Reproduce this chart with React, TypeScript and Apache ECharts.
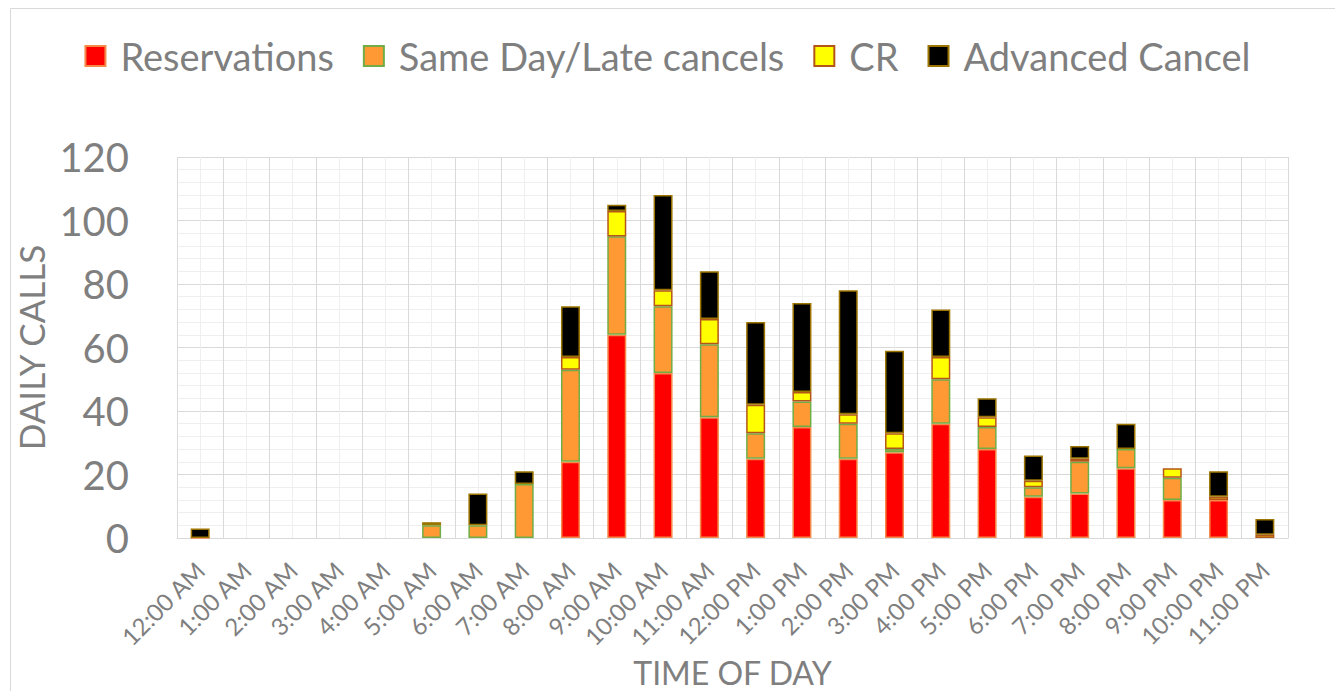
import React, { useEffect, useRef } from "react";
import * as echarts from "echarts";

const categories = [
  "12:00 AM", "1:00 AM", "2:00 AM", "3:00 AM", "4:00 AM", "5:00 AM", "6:00 AM", "7:00 AM",
  "8:00 AM", "9:00 AM", "10:00 AM", "11:00 AM", "12:00 PM", "1:00 PM", "2:00 PM", "3:00 PM",
  "4:00 PM", "5:00 PM", "6:00 PM", "7:00 PM", "8:00 PM", "9:00 PM", "10:00 PM", "11:00 PM",
];

const reservations = [0, null, null, null, null, null, null, null, 24, 64, 52, 38, 25, 35, 25, 27, 36, 28, 13, 14, 22, 12, 12, null];
const sameDayLate = [null, null, null, null, null, 4, 4, 17, 29, 31, 21, 23, 8, 8, 11, 1, 14, 7, 3, 10, 6, 7, null, null];
const cr = [null, null, null, null, null, null, null, null, 4, 8, 5, 8, 9, 3, 3, 5, 7, 3, 2, 1, null, 3, 1, 1];
const advancedCancel = [3, null, null, null, null, 1, 10, 4, 16, 2, 30, 15, 26, 28, 39, 26, 15, 6, 8, 4, 8, null, 8, 5];

const yTicks = { min: 0, max: 120, interval: 20 };

const FONT = "Lato";
const GREY = "#7f7f7f";

export default function App() {
  const ref = useRef<HTMLDivElement>(null);

  useEffect(() => {
    const prevMargin = document.body.style.margin;
    document.body.style.margin = "0";
    const chart = echarts.init(ref.current!, undefined, { renderer: "svg" });

    const seriesDefs = [
      { name: "Reservations", data: reservations, color: "#ff0000", border: "#f4894a" },
      { name: "Same Day/Late cancels", data: sameDayLate, color: "#ff9933", border: "#70ad47" },
      { name: "CR", data: cr, color: "#ffff00", border: "#b4561a" },
      { name: "Advanced Cancel", data: advancedCancel, color: "#000000", border: "#9c7400" },
    ];

    chart.setOption({
      animation: false,
      textStyle: { fontFamily: FONT },
      graphic: [
        {
          type: "rect",
          shape: { x: 10.5, y: 8.5, width: 1340, height: 700 },
          style: { fill: "none", stroke: "#d9d9d9", lineWidth: 1 },
          silent: true,
        },
      ],
      legend: {
        left: "center",
        top: 32,
        itemWidth: 20,
        itemHeight: 20,
        itemGap: 29,
        icon: "rect",
        textStyle: {
          color: GREY,
          fontSize: 38,
          fontFamily: FONT,
          padding: [0, 0, 0, 10],
        },
      },
      grid: { left: 177, top: 157, width: 1111, height: 381, containLabel: false, outerBoundsMode: "none" },
      xAxis: [
        {
          type: "category",
          data: categories,
          boundaryGap: true,
          axisLine: { show: true, lineStyle: { color: "#d9d9d9", width: 1 } },
          axisTick: { show: false },
          splitLine: { show: false },
          axisLabel: {
            rotate: 45,
            interval: 0,
            color: GREY,
            fontSize: 24,
            fontFamily: FONT,
            margin: 28,
          },
          name: "TIME OF DAY",
          nameLocation: "middle",
          nameGap: 117,
          nameTextStyle: { color: GREY, fontSize: 32, fontFamily: FONT },
        },
        {
          type: "value",
          position: "top",
          min: 0,
          max: 24,
          interval: 1,
          axisLabel: { show: false },
          axisLine: { show: false },
          axisTick: { show: false },
          splitLine: { show: true, lineStyle: { color: "#d9d9d9", width: 1 } },
          minorTick: { show: false, splitNumber: 2 },
          minorSplitLine: { show: true, lineStyle: { color: "#efefef", width: 1 } },
        },
      ],
      yAxis: {
        type: "value",
        min: yTicks.min,
        max: yTicks.max,
        interval: yTicks.interval,
        axisLine: { show: false },
        axisTick: { show: false },
        axisLabel: { color: GREY, fontSize: 40, fontFamily: FONT, margin: 48 },
        splitLine: { show: true, lineStyle: { color: "#d9d9d9", width: 1 } },
        minorTick: { show: false, splitNumber: 5 },
        minorSplitLine: { show: true, lineStyle: { color: "#efefef", width: 1 } },
        name: "DAILY CALLS",
        nameLocation: "middle",
        nameGap: 112,
        nameTextStyle: { color: GREY, fontSize: 35, fontFamily: FONT },
      },
      series: seriesDefs.map((s) => ({
        name: s.name,
        type: "bar",
        stack: "total",
        xAxisIndex: 0,
        barWidth: 19,
        data: s.data,
        itemStyle: { color: s.color, borderColor: s.border, borderWidth: 1.5 },
      })),
    });

    return () => {
      chart.dispose();
      document.body.style.margin = prevMargin;
    };
  }, []);

  return <div ref={ref} style={{ width: 1335, height: 691 }} />;
}
